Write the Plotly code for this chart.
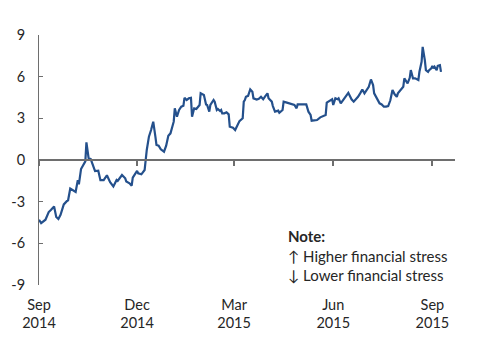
import plotly.graph_objects as go

dates = [
    "2014-09-01", "2014-09-03", "2014-09-07", "2014-09-10", "2014-09-12", "2014-09-15",
    "2014-09-17", "2014-09-19", "2014-09-21", "2014-09-24", "2014-09-27", "2014-09-28",
    "2014-09-30", "2014-10-03", "2014-10-05", "2014-10-07", "2014-10-08", "2014-10-10",
    "2014-10-12", "2014-10-14", "2014-10-15", "2014-10-17", "2014-10-19", "2014-10-21",
    "2014-10-23", "2014-10-26", "2014-10-28", "2014-10-31", "2014-11-03", "2014-11-06",
    "2014-11-09", "2014-11-12", "2014-11-13", "2014-11-17", "2014-11-20", "2014-11-21",
    "2014-11-24", "2014-11-26", "2014-11-27", "2014-12-01", "2014-12-02", "2014-12-05",
    "2014-12-07", "2014-12-08", "2014-12-10", "2014-12-11", "2014-12-12", "2014-12-14",
    "2014-12-16", "2014-12-18", "2014-12-19", "2014-12-21", "2014-12-23", "2014-12-26",
    "2014-12-28", "2014-12-30", "2015-01-01", "2015-01-04", "2015-01-05", "2015-01-07",
    "2015-01-09", "2015-01-11", "2015-01-13", "2015-01-14", "2015-01-16", "2015-01-18",
    "2015-01-20", "2015-01-21", "2015-01-23", "2015-01-25", "2015-01-26", "2015-01-28",
    "2015-01-29", "2015-01-31", "2015-02-01", "2015-02-03", "2015-02-04", "2015-02-06",
    "2015-02-07", "2015-02-10", "2015-02-11", "2015-02-13", "2015-02-14", "2015-02-16",
    "2015-02-17", "2015-02-18", "2015-02-20", "2015-02-22", "2015-02-24", "2015-02-25",
    "2015-02-28", "2015-03-02", "2015-03-04", "2015-03-06", "2015-03-09", "2015-03-10",
    "2015-03-11", "2015-03-12", "2015-03-14", "2015-03-16", "2015-03-18", "2015-03-19",
    "2015-03-22", "2015-03-24", "2015-03-26", "2015-03-28", "2015-03-30", "2015-04-01",
    "2015-04-02", "2015-04-05", "2015-04-06", "2015-04-08", "2015-04-11", "2015-04-12",
    "2015-04-15", "2015-04-16", "2015-04-19", "2015-04-21", "2015-04-23", "2015-04-26",
    "2015-04-28", "2015-04-29", "2015-05-03", "2015-05-06", "2015-05-07", "2015-05-09",
    "2015-05-11", "2015-05-12", "2015-05-15", "2015-05-17", "2015-05-20", "2015-05-23",
    "2015-05-25", "2015-05-26", "2015-05-29", "2015-05-31", "2015-06-01", "2015-06-03",
    "2015-06-05", "2015-06-06", "2015-06-08", "2015-06-10", "2015-06-13", "2015-06-15",
    "2015-06-16", "2015-06-18", "2015-06-20", "2015-06-22", "2015-06-24", "2015-06-26",
    "2015-06-28", "2015-06-30", "2015-07-02", "2015-07-04", "2015-07-06", "2015-07-08",
    "2015-07-09", "2015-07-12", "2015-07-14", "2015-07-16", "2015-07-18", "2015-07-20",
    "2015-07-22", "2015-07-24", "2015-07-25", "2015-07-26", "2015-07-28", "2015-07-30",
    "2015-07-31", "2015-08-02", "2015-08-05", "2015-08-06", "2015-08-08", "2015-08-09",
    "2015-08-11", "2015-08-12", "2015-08-14", "2015-08-16", "2015-08-19", "2015-08-20",
    "2015-08-22", "2015-08-23", "2015-08-25", "2015-08-26", "2015-08-28", "2015-08-29",
    "2015-08-31", "2015-09-01", "2015-09-02", "2015-09-03", "2015-09-05", "2015-09-06",
    "2015-09-08", "2015-09-09",
]

values = [
    -4.30, -4.55, -4.30, -3.75, -3.60, -3.35,
    -4.10, -4.25, -3.95, -3.20, -2.95, -2.90,
    -2.05, -2.20, -2.30, -1.45, -1.75, -0.65,
    -0.35, -0.10, 1.27, 0.15, 0.07, -0.35,
    -0.80, -0.77, -1.45, -1.45, -1.10, -1.60,
    -1.90, -1.44, -1.50, -1.08, -1.32, -1.55,
    -1.68, -1.85, -1.27, -0.79, -0.96, -1.03,
    -0.84, -0.72, 0.72, 1.20, 1.68, 2.16,
    2.76, 1.68, 1.08, 1.03, 0.77, 0.60,
    1.03, 1.75, 1.92, 2.76, 3.72, 3.12,
    3.60, 3.84, 3.90, 4.48, 4.32, 4.44,
    4.48, 3.12, 3.72, 3.67, 3.76, 3.96,
    4.80, 4.73, 4.68, 4.00, 3.96, 3.48,
    3.96, 4.32, 4.20, 3.60, 3.67, 3.53,
    3.60, 3.36, 3.36, 3.43, 3.29, 2.40,
    2.32, 2.16, 2.52, 2.80, 3.00, 4.20,
    4.32, 4.55, 4.62, 5.08, 4.91, 4.44,
    4.35, 4.40, 4.55, 4.37, 4.60, 4.80,
    4.44, 4.20, 3.88, 3.48, 3.55, 3.40,
    3.60, 4.20, 4.13, 4.08, 4.00, 3.96,
    3.72, 4.00, 4.00, 4.00, 4.00, 3.48,
    3.24, 2.83, 2.83, 2.88, 3.07, 3.17,
    3.24, 4.13, 4.27, 4.37, 3.96, 4.44,
    4.37, 4.44, 4.08, 4.32, 4.60, 4.84,
    4.68, 4.37, 4.20, 4.37, 4.55, 4.80,
    5.08, 4.80, 5.04, 5.27, 5.80, 5.40,
    4.80, 4.37, 4.08, 4.00, 3.84, 3.84,
    3.88, 4.30, 4.73, 5.04, 4.73, 4.55,
    4.80, 4.96, 5.27, 5.88, 5.63, 5.52,
    5.92, 6.47, 5.88, 5.88, 5.76, 6.35,
    7.07, 8.15, 7.19, 6.47, 6.35, 6.47,
    6.60, 6.78, 6.60, 6.71, 6.47, 6.78,
    6.83, 6.35,
]

tick_dates = ["2014-09-01", "2014-12-01", "2015-03-01", "2015-06-01", "2015-09-01"]
tick_labels = ["Sep<br>2014", "Dec<br>2014", "Mar<br>2015", "Jun<br>2015", "Sep<br>2015"]
y_ticks = [-9, -6, -3, 0, 3, 6, 9]
y_tick_labels = ["-9", "-6", "-3", "0", "3", "6", "9"]

x_range = ["2014-09-01", "2015-09-22"]
font_family = "Lato, 'Open Sans', sans-serif"
text_color = "#262626"
axis_color = "#6e6e6e"

fig = go.Figure()
fig.add_trace(go.Scatter(
    x=dates, y=values, mode="lines",
    line=dict(color="#24508c", width=2.2),
    showlegend=False, hoverinfo="skip",
))
fig.add_trace(go.Scatter(
    x=[dates[0]], y=[None], xaxis="x2", mode="lines",
    showlegend=False, hoverinfo="skip",
))

fig.update_layout(
    width=480, height=360,
    margin=dict(l=31, r=33, t=27, b=83, autoexpand=False),
    paper_bgcolor="white", plot_bgcolor="white",
    font=dict(family=font_family, size=14, color=text_color),
    xaxis=dict(
        type="date", range=x_range,
        anchor="free", position=0.5, automargin=False,
        showline=True, linecolor=axis_color, linewidth=1.5,
        ticks="outside", ticklen=5, tickcolor=axis_color, tickwidth=1.5,
        tickvals=tick_dates, showticklabels=False,
        showgrid=False, zeroline=False,
    ),
    xaxis2=dict(
        type="date", range=x_range, overlaying="x", matches="x",
        anchor="y", side="bottom", automargin=False,
        showline=False, ticks="",
        tickvals=tick_dates, ticktext=tick_labels,
        ticklabelstandoff=9,
        showgrid=False, zeroline=False,
        tickfont=dict(family=font_family, size=14.5, color=text_color),
    ),
    yaxis=dict(
        range=[-9, 9], tickvals=y_ticks, ticktext=y_tick_labels,
        automargin=False,
        showline=True, linecolor=axis_color, linewidth=1,
        ticks="inside", ticklen=4, tickcolor=axis_color,
        ticklabelstandoff=10,
        showgrid=False, zeroline=False,
        tickfont=dict(family=font_family, size=14.5, color=text_color),
    ),
    annotations=[dict(
        xref="paper", yref="paper", x=0.594, y=0.24,
        xanchor="left", yanchor="top", align="left", showarrow=False,
        text="<b>Note:</b><br>↑ Higher financial stress<br>↓ Lower financial stress",
        font=dict(family=font_family, size=15, color=text_color),
    )],
)

fig.write_html("out.html")
